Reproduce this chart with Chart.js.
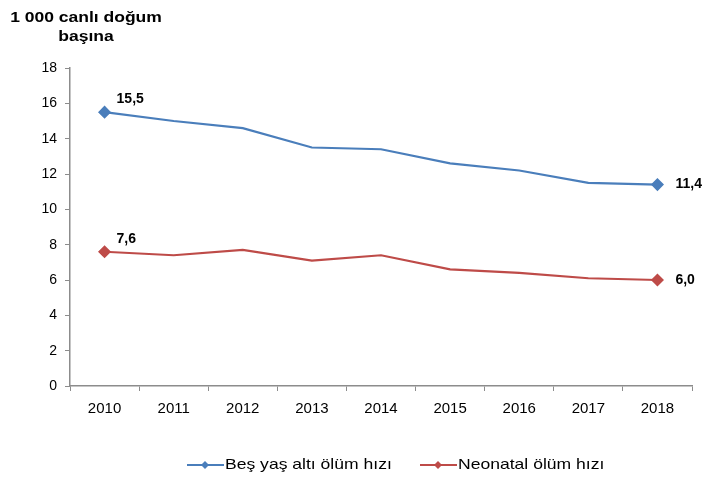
<!DOCTYPE html>
<html>
<head>
<meta charset="utf-8">
<script src="https://cdn.jsdelivr.net/npm/chart.js@4.4.1/dist/chart.umd.min.js"></script>
<style>
    html, body { margin: 0; padding: 0; background: #fff; }
    #wrap { width: 709px; height: 483px; position: relative; }
</style>
</head>
<body>
<div id="wrap"><canvas id="mortalityChart" width="709" height="483"></canvas></div>
<script>
// Chart data
const years = ["2010", "2011", "2012", "2013", "2014", "2015", "2016", "2017", "2018"];
const underFive = [15.5, 15.0, 14.6, 13.5, 13.4, 12.6, 12.2, 11.5, 11.4];
const neonatal = [7.6, 7.4, 7.7, 7.1, 7.4, 6.6, 6.4, 6.1, 6.0];
const seriesNames = ["Beş yaş altı ölüm hızı", "Neonatal ölüm hızı"];
const seriesColors = ["#4a7ebb", "#be4b48"];
const yTicks = [0, 2, 4, 6, 8, 10, 12, 14, 16, 18];

const FONT = "Arial, 'Liberation Sans', sans-serif";

// Title in top left corner (a bit wide, like the source image)
const titlePlugin = {
    id: "unitTitle",
    afterDraw(chart) {
        const c = chart.ctx;
        c.save();
        c.fillStyle = "#000";
        c.font = "bold 14px " + FONT;
        c.textAlign = "center";
        c.textBaseline = "middle";
        c.scale(1.25, 1);
        c.fillText("1 000 canlı doğum", 86 / 1.25, 18);
        c.fillText("başına", 86 / 1.25, 37);
        c.restore();
    },
};

// Value labels on first and last points
const endLabels = {
    id: "endLabels",
    afterDatasetsDraw(chart) {
        const c = chart.ctx;
        c.save();
        c.font = "bold 14px " + FONT;
        c.fillStyle = "#000";
        c.textBaseline = "middle";
        c.textAlign = "left";
        chart.data.datasets.forEach((ds, i) => {
            const pts = chart.getDatasetMeta(i).data;
            const first = pts[0];
            const last = pts[pts.length - 1];
            c.fillText(ds.data[0].toFixed(1).replace(".", ","), first.x + 12, first.y - 13);
            c.fillText(ds.data[ds.data.length - 1].toFixed(1).replace(".", ","), last.x + 18, last.y);
        });
        c.restore();
    },
};

// Legend with line + diamond marker
const lineLegend = {
    id: "lineLegend",
    afterDraw(chart) {
        const c = chart.ctx;
        const y = 465;
        const sx = 1.17;
        const items = [[187, 0], [420, 1]];
        items.forEach(([x, i]) => {
            c.save();
            c.strokeStyle = seriesColors[i];
            c.lineWidth = 2;
            c.beginPath();
            c.moveTo(x, y);
            c.lineTo(x + 37, y);
            c.stroke();
            c.fillStyle = seriesColors[i];
            c.beginPath();
            c.moveTo(x + 18, y - 4);
            c.lineTo(x + 22, y);
            c.lineTo(x + 18, y + 4);
            c.lineTo(x + 14, y);
            c.closePath();
            c.fill();
            c.font = "15px " + FONT;
            c.textBaseline = "middle";
            c.textAlign = "left";
            c.fillStyle = "#000";
            c.scale(sx, 1);
            c.fillText(seriesNames[i], (x + 38) / sx, y);
            c.restore();
        });
    },
};

function makeSeries(label, data, color) {
    return {
        label: label,
        data: data,
        borderColor: color,
        backgroundColor: color,
        borderWidth: 2.2,
        tension: 0,
        pointStyle: (ctx) => (ctx.dataIndex === 0 || ctx.dataIndex === data.length - 1 ? "rectRot" : false),
        pointRadius: 5,
        pointHoverRadius: 5,
    };
}

const ctx = document.getElementById("mortalityChart").getContext("2d");
new Chart(ctx, {
    type: "line",
    data: {
        labels: years,
        datasets: [
            makeSeries(seriesNames[0], underFive, seriesColors[0]),
            makeSeries(seriesNames[1], neonatal, seriesColors[1]),
        ],
    },
    options: {
        responsive: false,
        animation: false,
        devicePixelRatio: 1,
        layout: {
            padding: { left: 0, right: 17, top: 68, bottom: 62 },
        },
        plugins: {
            legend: { display: false },
            tooltip: { enabled: false },
        },
        scales: {
            x: {
                offset: true,
                afterFit(scale) {
                    scale.height = 35;
                },
                grid: {
                    offset: true,
                    drawOnChartArea: false,
                    color: "#8c8c8c",
                    tickLength: 5,
                },
                border: { color: "#8c8c8c", width: 1.5 },
                ticks: {
                    color: "#000",
                    font: { family: FONT, size: 15 },
                    padding: 9,
                    maxRotation: 0,
                    autoSkip: false,
                },
            },
            y: {
                min: 0,
                max: 18,
                afterFit(scale) {
                    scale.width = 70;
                },
                afterBuildTicks(scale) {
                    scale.ticks = yTicks.map((v) => ({ value: v }));
                },
                grid: {
                    drawOnChartArea: false,
                    color: "#8c8c8c",
                    tickLength: 5,
                },
                border: { color: "#8c8c8c", width: 1.5 },
                ticks: {
                    color: "#000",
                    font: { family: FONT, size: 14 },
                    padding: 8,
                },
            },
        },
    },
    plugins: [titlePlugin, endLabels, lineLegend],
});
</script>
</body>
</html>
